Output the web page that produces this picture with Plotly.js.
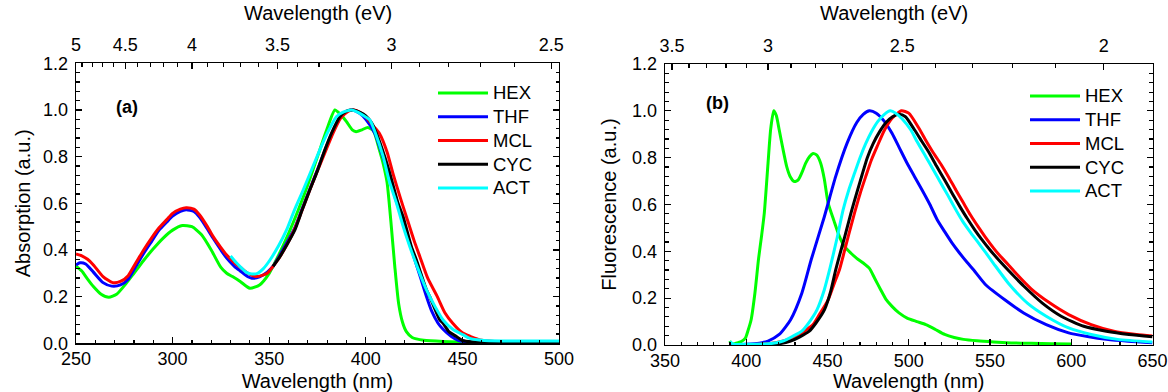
<!DOCTYPE html>
<html><head><meta charset="utf-8">
<script src="https://cdn.plot.ly/plotly-3.0.1.min.js"></script>
<style>html,body{margin:0;padding:0;background:#fff}#chart{width:1168px;height:392px}</style>
</head><body><div id="chart"></div>
<script>
// ---------- Data ----------
const seriesNames = ['HEX', 'THF', 'MCL', 'CYC', 'ACT'];

// (a) Absorption spectra
const absNmHEX = [250,253,256,259,263,267,271,276,280,285,290,295,300,305,310,315,320,325,328,331,335,340,345,350,355,360,365,370,375,380,384,387,390,393,395,398,401,404,407,409,411,413,415,417,419,421,424,430,440,460,500];
const absHEX   = [0.331,0.31,0.275,0.243,0.21,0.197,0.21,0.257,0.30,0.355,0.405,0.45,0.485,0.505,0.50,0.465,0.40,0.325,0.30,0.286,0.265,0.236,0.25,0.30,0.38,0.47,0.57,0.68,0.80,0.92,1.0,0.98,0.95,0.915,0.907,0.915,0.925,0.91,0.83,0.77,0.69,0.52,0.33,0.17,0.09,0.05,0.025,0.013,0.008,0.005,0.005];

const absNmTHF = [250,252,255,259,264,268.5,273,277,281,285,289,293,297,300,304,307,311,314,318,321,325,328,332,335,339,341,345,349,352,355,359,363,367,371,375,379,383,387,391,393,397,400,404.7,408,411.6,415,418.5,422,425.4,428,431.4,434,437.4,440,444.3,448,455,500];
const absTHF   = [0.335,0.345,0.34,0.305,0.26,0.245,0.25,0.275,0.33,0.385,0.435,0.485,0.52,0.545,0.565,0.572,0.565,0.54,0.49,0.45,0.40,0.365,0.33,0.31,0.285,0.279,0.285,0.305,0.33,0.37,0.43,0.49,0.575,0.66,0.745,0.83,0.91,0.97,0.997,1.0,0.985,0.96,0.90,0.82,0.729,0.63,0.543,0.45,0.357,0.29,0.20,0.14,0.086,0.06,0.029,0.012,0.005,0.005];

const absNmMCL = [250,253,256,259,264,269,273,277,281,285,289,293,297,300,304,307,311,314,318,321,325,328,332,335,339,343,346,349,352,355,359,363,367,371,375,379,383,387,391,394,397,400,404,407,411,414,418,421,425,428,432,437,441,445,450,454,460,470,500];
const absMCL   = [0.383,0.375,0.36,0.336,0.286,0.26,0.265,0.29,0.345,0.40,0.45,0.495,0.53,0.557,0.575,0.581,0.575,0.55,0.50,0.457,0.41,0.378,0.345,0.326,0.30,0.286,0.29,0.30,0.33,0.364,0.42,0.486,0.57,0.657,0.74,0.82,0.90,0.965,0.995,1.0,0.99,0.97,0.93,0.90,0.82,0.729,0.62,0.543,0.44,0.371,0.28,0.20,0.13,0.086,0.045,0.03,0.013,0.006,0.005];

const absNmCYC = [352,355.5,359,363.3,367,371,375,378.8,382.5,386.6,390,393.5,397,400,403,405.5,409.8,412.4,416.7,419.3,423.6,426.2,431.4,433.1,438.3,440,443,446.9,450,455,470,500];
const absCYC   = [0.33,0.371,0.42,0.486,0.57,0.657,0.74,0.829,0.905,0.971,0.995,1.0,0.99,0.975,0.945,0.90,0.80,0.729,0.60,0.543,0.414,0.357,0.229,0.20,0.10,0.086,0.05,0.029,0.012,0.006,0.005,0.005];

const absNmACT = [330,333,336,338,341,344,347,350.4,355,359,363,367.6,372,376.2,380,384.8,388,392.6,396,399,402.1,405,409,412,415.9,419,422.8,427,431.4,436,440,445,450.4,453.8,460,470,500];
const absACT   = [0.374,0.345,0.32,0.305,0.297,0.30,0.32,0.357,0.42,0.486,0.57,0.657,0.745,0.829,0.90,0.971,0.99,1.0,0.99,0.975,0.957,0.90,0.80,0.70,0.60,0.51,0.414,0.32,0.229,0.155,0.10,0.06,0.036,0.021,0.013,0.01,0.01];

// (b) Fluorescence spectra
const flNmHEX = [389.8,391,393,395,397,399.5,401,403,405.3,407.6,409.5,411.1,413.4,415,416.9,418.5,420.3,422.5,424.9,427,429.6,432,434.5,436.5,439,441.1,443.5,445.8,448,450.4,454,457.3,460.5,464.3,468,472,475.8,479,482.8,486,489.7,494,499,505,510.5,516,522.1,528,533.7,542,552.2,563,575.3,588,600];
const flHEX   = [0.017,0.005,0.006,0.01,0.015,0.03,0.06,0.108,0.22,0.37,0.47,0.563,0.776,0.92,1.0,0.98,0.918,0.84,0.762,0.72,0.698,0.705,0.74,0.776,0.805,0.818,0.81,0.776,0.71,0.606,0.53,0.464,0.42,0.393,0.37,0.35,0.327,0.285,0.235,0.195,0.165,0.137,0.115,0.10,0.087,0.068,0.045,0.032,0.024,0.018,0.013,0.009,0.007,0.005,0.004];

const flNmTHF = [390,400,408,413.4,420.3,427.3,434.2,440,448.1,455,462,468,472,475.8,480,485,489.7,494,499,503.5,508.2,513,517.5,522,526.7,531,536,540,547.5,559.1,570.7,584.6,598.4,610,621.6,635,650];
const flTHF   = [0.0,0.003,0.008,0.017,0.045,0.108,0.221,0.365,0.549,0.719,0.861,0.95,0.985,1.0,0.99,0.955,0.904,0.845,0.776,0.72,0.662,0.6,0.535,0.485,0.435,0.395,0.352,0.32,0.256,0.193,0.137,0.087,0.052,0.036,0.024,0.016,0.01];

const flNmMCL = [400,410,418,425,431.9,436,441.1,445,450.4,454,457.3,459.6,463,466.6,470,473.5,477,480.5,485.1,490,495.5,500,505.9,510,515.2,520,524.4,529,533.7,538,542.9,547,552.2,556,561.4,566.1,575.3,586.9,598.4,612.3,626.2,640.1,650];
const flMCL   = [0.0,0.004,0.01,0.022,0.038,0.06,0.087,0.13,0.193,0.26,0.32,0.379,0.47,0.563,0.645,0.719,0.79,0.847,0.918,0.97,1.0,0.99,0.93,0.88,0.82,0.77,0.719,0.662,0.606,0.555,0.503,0.462,0.414,0.382,0.342,0.305,0.24,0.179,0.13,0.087,0.059,0.045,0.038];

const flNmCYC = [405,420,427.3,433,438.8,443,448.1,452,455,457.3,460.5,464.3,468,471.2,474.5,478.1,482,486,490,494,498,503.6,508,512.8,517,522.1,526.5,531.4,536,540.6,545,549.9,556.8,561.4,570.7,582.2,593.8,607.7,621.6,635.5,650];
const flCYC   = [0.0,0.005,0.017,0.035,0.059,0.095,0.15,0.23,0.32,0.38,0.46,0.56,0.65,0.725,0.80,0.86,0.91,0.95,0.975,0.985,0.975,0.918,0.87,0.818,0.765,0.705,0.65,0.592,0.54,0.492,0.45,0.407,0.352,0.318,0.252,0.179,0.123,0.08,0.059,0.045,0.035];

const flNmACT = [390,392,400,410,415,422.6,428,434.2,439,443.5,448,451.6,456,459.6,463,466.6,470,473.5,477,481,485,488.6,492,496,501.3,505,510.5,515,519.8,524,529,533,538.3,543,547.5,552.2,561.4,573,584.6,598.4,612.3,628.5,650];
const flACT   = [0.015,0.004,0.003,0.004,0.006,0.017,0.035,0.059,0.10,0.15,0.235,0.33,0.46,0.577,0.66,0.733,0.80,0.86,0.91,0.955,0.985,1.0,0.99,0.965,0.918,0.87,0.804,0.75,0.691,0.64,0.577,0.53,0.478,0.435,0.393,0.348,0.263,0.179,0.123,0.073,0.045,0.024,0.013];

// Top-axis (photon energy) labels in eV
const evLabelsA = [5, 4.5, 4, 3.5, 3, 2.5];
const evLabelsB = [3.5, 3, 2.5, 2];

// ---------- Styling / layout ----------
const seriesColors = ['#00ff00', '#0000ff', '#ff0000', '#000000', '#00ffff'];
const FONT = 'Liberation Sans, Arial, Helvetica, sans-serif';
const W = 1168, H = 392;
const A = {x0: 76, x1: 559, top: 63.3, bottom: 343.3, range: [250, 500]};
const B = {x0: 665, x1: 1152.5, top: 64, bottom: 345, range: [350, 650]};
const HC = 1240; // eV*nm

const absX = [absNmHEX, absNmTHF, absNmMCL, absNmCYC, absNmACT];
const absY = [absHEX, absTHF, absMCL, absCYC, absACT];
const flX = [flNmHEX, flNmTHF, flNmMCL, flNmCYC, flNmACT];
const flY = [flHEX, flTHF, flMCL, flCYC, flACT];

function legendName(n) { return '<span style="font-size:18.5px">' + n + '</span>'; }

const traces = [];
seriesNames.forEach((n, i) => {
  traces.push({x: absX[i], y: absY[i], type: 'scatter', mode: 'lines', name: legendName(n),
    line: {color: seriesColors[i], width: 3, shape: 'spline', smoothing: 0.6},
    xaxis: 'x', yaxis: 'y', legend: 'legend'});
});
seriesNames.forEach((n, i) => {
  traces.push({x: flX[i], y: flY[i], type: 'scatter', mode: 'lines', name: legendName(n),
    line: {color: seriesColors[i], width: 3, shape: 'spline', smoothing: 0.6},
    xaxis: 'x3', yaxis: 'y2', legend: 'legend2'});
});
// transparent carriers so that the energy (top) axes get drawn
traces.push({x: absNmHEX, y: absHEX, type: 'scatter', mode: 'lines', xaxis: 'x2', yaxis: 'y',
  opacity: 0, showlegend: false, line: {width: 0, color: 'rgba(0,0,0,0)'}});
traces.push({x: flNmHEX, y: flHEX, type: 'scatter', mode: 'lines', xaxis: 'x4', yaxis: 'y2',
  opacity: 0, showlegend: false, line: {width: 0, color: 'rgba(0,0,0,0)'}});

function minorEv(range, majors) {
  const out = [];
  for (let e = 60; e >= 10; e--) {
    const ev = e / 10;
    if (majors.some(m => Math.abs(m - ev) < 1e-6)) continue;
    const nm = HC / ev;
    if (nm > range[0] && nm < range[1]) out.push(nm);
  }
  return out;
}

const tickFont = {family: FONT, size: 18, color: '#000'};
const titleFont = {family: FONT, size: 20, color: '#000'};
function axisBase(extra) {
  return Object.assign({
    showline: true, linecolor: '#000', linewidth: 1.3,
    ticks: 'inside', ticklen: 6, tickwidth: 1.3, tickcolor: '#000',
    showgrid: false, zeroline: false, tickfont: tickFont, automargin: false,
    fixedrange: true
  }, extra);
}
const minorStyle = {ticks: 'inside', ticklen: 3.5, tickwidth: 1.2, tickcolor: '#000', showgrid: false};

function topAxis(overlay, anchor, rng, labels) {
  return axisBase({
    overlaying: overlay, side: 'top', anchor: anchor, range: rng, autorange: false,
    tickmode: 'array',
    tickvals: labels.map(e => Math.min(Math.max(HC / e, rng[0]), rng[1])),
    ticktext: labels.map(e => String(e)),
    minor: Object.assign({tickmode: 'array', tickvals: minorEv(rng, labels)}, minorStyle),
    ticklabelstandoff: 4
  });
}

const layout = {
  width: W, height: H,
  margin: {l: 0, r: 0, t: 0, b: 0},
  paper_bgcolor: '#fff', plot_bgcolor: '#fff',
  font: {family: FONT, size: 18, color: '#000'},
  showlegend: true,
  hovermode: false,
  xaxis: axisBase({
    domain: [A.x0 / W, A.x1 / W], anchor: 'y', range: A.range, autorange: false,
    tick0: 0, dtick: 50, mirror: true,
    minor: Object.assign({dtick: 10, tick0: 0}, minorStyle),
    ticklabelstandoff: -1,
    title: {text: 'Wavelength (nm)', font: titleFont, standoff: 5}
  }),
  yaxis: axisBase({
    domain: [(H - A.bottom) / H, (H - A.top) / H], anchor: 'x', range: [0, 1.2], autorange: false,
    tick0: 0, dtick: 0.2, tickformat: '.1f', mirror: 'ticks',
    minor: Object.assign({dtick: 0.04, tick0: 0}, minorStyle),
    ticklabelstandoff: 3,
    title: {text: 'Absorption (a.u.)', font: titleFont, standoff: 7}
  }),
  xaxis2: topAxis('x', 'y', A.range, evLabelsA),
  xaxis3: axisBase({
    domain: [B.x0 / W, B.x1 / W], anchor: 'y2', range: B.range, autorange: false,
    tick0: 0, dtick: 50, mirror: true,
    minor: Object.assign({dtick: 10, tick0: 0}, minorStyle),
    ticklabelstandoff: -1,
    title: {text: 'Wavelength (nm)', font: titleFont, standoff: 5}
  }),
  yaxis2: axisBase({
    domain: [(H - B.bottom) / H, (H - B.top) / H], anchor: 'x3', range: [0, 1.2], autorange: false,
    tick0: 0, dtick: 0.2, tickformat: '.1f', mirror: 'ticks',
    minor: Object.assign({dtick: 0.04, tick0: 0}, minorStyle),
    ticklabelstandoff: 3,
    title: {text: 'Fluorescence (a.u.)', font: titleFont, standoff: 10}
  }),
  xaxis4: topAxis('x3', 'y2', B.range, evLabelsB),
  legend: {x: 433 / W, xanchor: 'left', y: 1 - 76 / H, yanchor: 'top', bgcolor: 'rgba(0,0,0,0)',
    borderwidth: 0, font: {family: FONT, size: 16, color: '#000'}, itemwidth: 50, tracegroupgap: 0},
  legend2: {x: 1025 / W, xanchor: 'left', y: 1 - 79 / H, yanchor: 'top', bgcolor: 'rgba(0,0,0,0)',
    borderwidth: 0, font: {family: FONT, size: 16, color: '#000'}, itemwidth: 50, tracegroupgap: 0},
  annotations: [
    // energy-axis titles above the top axes
    {text: 'Wavelength (eV)', xref: 'paper', yref: 'paper', x: (A.x0 + A.x1) / 2 / W, y: 1 - 13 / H,
     xanchor: 'center', yanchor: 'middle', showarrow: false, font: titleFont},
    {text: 'Wavelength (eV)', xref: 'paper', yref: 'paper', x: ((B.x0 + B.x1) / 2 - 15) / W, y: 1 - 13 / H,
     xanchor: 'center', yanchor: 'middle', showarrow: false, font: titleFont},
    {text: '<b>(a)</b>', xref: 'x domain', yref: 'y domain', x: 0.106, y: 0.845, xanchor: 'center', yanchor: 'middle',
     showarrow: false, font: {family: FONT, size: 18, color: '#000'}},
    {text: '<b>(b)</b>', xref: 'x3 domain', yref: 'y2 domain', x: 0.107, y: 0.861, xanchor: 'center', yanchor: 'middle',
     showarrow: false, font: {family: FONT, size: 18, color: '#000'}}
  ]
};

Plotly.newPlot('chart', traces, layout, {staticPlot: true, displayModeBar: false});
</script>
</body></html>
